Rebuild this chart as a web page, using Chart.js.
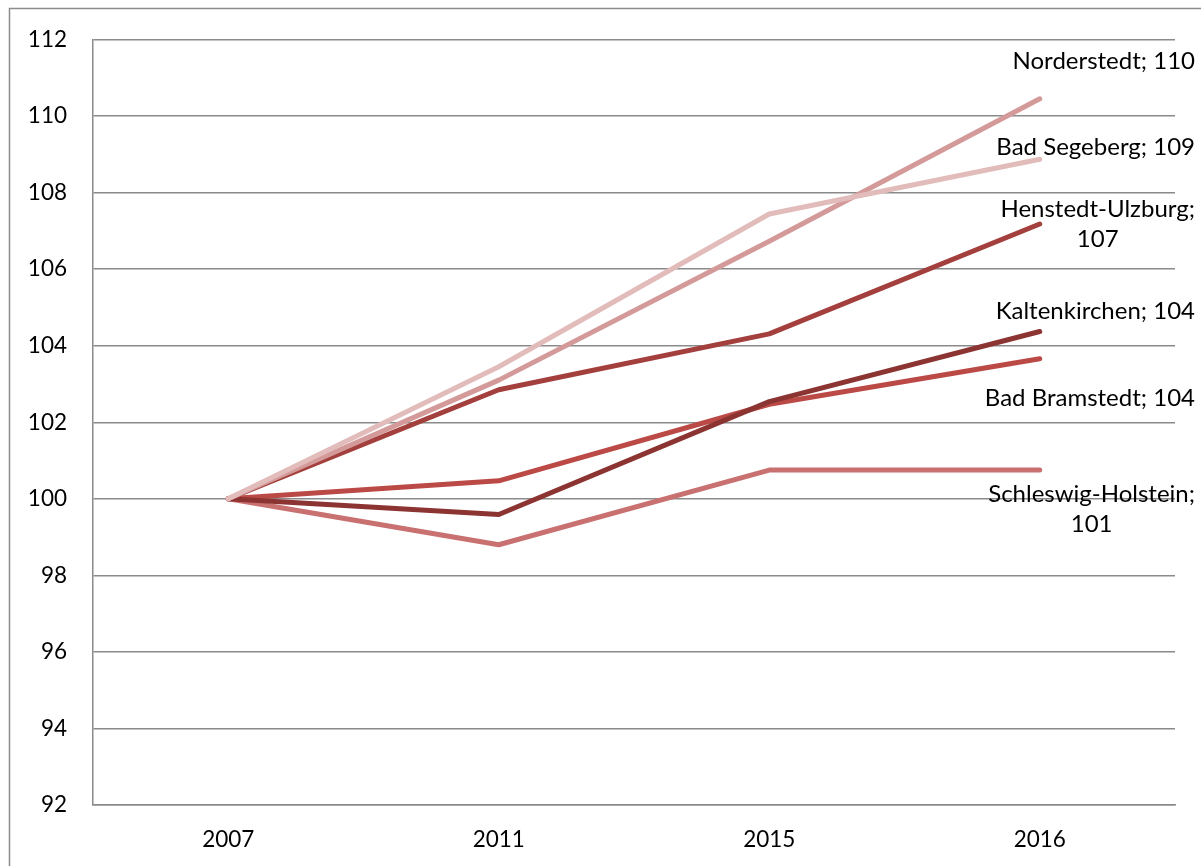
<!DOCTYPE html>
<html>
<head>
<meta charset="utf-8">
<title>Bevölkerungsentwicklung (2007 = 100)</title>
<script src="https://cdn.jsdelivr.net/npm/chart.js@4.4.1/dist/chart.umd.min.js"></script>
<style>
  html, body { margin: 0; padding: 0; background: #ffffff; }
  #wrap { position: relative; width: 1201px; height: 866px; }
</style>
</head>
<body>
<div id="wrap"><canvas id="chart" width="1201" height="866"></canvas></div>
<script>
// Index values, 2007 = 100
const years = ['2007', '2011', '2015', '2016'];
const seriesNames = ['Schleswig-Holstein', 'Bad Bramstedt', 'Kaltenkirchen', 'Henstedt-Ulzburg', 'Norderstedt', 'Bad Segeberg'];
const schleswigHolstein = [100, 98.8, 100.75, 100.75];
const badBramstedt      = [100, 100.47, 102.47, 103.66];
const kaltenkirchen     = [100, 99.59, 102.54, 104.37];
const henstedtUlzburg   = [100, 102.85, 104.31, 107.18];
const norderstedt       = [100, 103.1, 106.73, 110.45];
const badSegeberg       = [100, 103.45, 107.44, 108.87];
const yTicks = [92, 94, 96, 98, 100, 102, 104, 106, 108, 110, 112];

const seriesValues = [schleswigHolstein, badBramstedt, kaltenkirchen, henstedtUlzburg, norderstedt, badSegeberg];
const seriesColors = ['#c87170', '#bb4a46', '#8b3432', '#a33f3c', '#d39a99', '#e2bcba'];

// End-of-line label placement: vertical shift from the last point, and line breaks
const labelShift = [39, 40, -20, 0, -38, -12];
const labelBreak = [true, false, false, true, false, false];

const FONT = 'Lato, "Open Sans", sans-serif';
const GRID = '#8a8a8a';

const frame = {
  id: 'frame',
  beforeDraw(chart) {
    const ctx = chart.ctx;
    ctx.save();
    ctx.fillStyle = '#ffffff';
    ctx.fillRect(0, 0, chart.width, chart.height);
    ctx.strokeStyle = '#8c8c8c';
    ctx.lineWidth = 1.5;
    ctx.beginPath();
    ctx.moveTo(9.5, chart.height);
    ctx.lineTo(9.5, 8.5);
    ctx.lineTo(chart.width, 8.5);
    ctx.stroke();
    ctx.restore();
  }
};

const endLabels = {
  id: 'endLabels',
  afterDatasetsDraw(chart) {
    const ctx = chart.ctx;
    const rightEdge = chart.chartArea.right + 20;
    ctx.save();
    ctx.font = '24px ' + FONT;
    ctx.fillStyle = '#000000';
    ctx.textBaseline = 'middle';
    chart.data.datasets.forEach((ds, i) => {
      const meta = chart.getDatasetMeta(i);
      const pt = meta.data[meta.data.length - 1];
      const value = Math.round(ds.data[ds.data.length - 1]);
      const lines = labelBreak[i] ? [ds.label + ';', String(value)] : [ds.label + '; ' + value];
      const lineH = 30;
      const widths = lines.map(l => ctx.measureText(l).width);
      const blockW = Math.max(...widths);
      const cy = pt.y + labelShift[i];
      const top = cy - (lines.length - 1) * lineH / 2;
      ctx.textAlign = 'center';
      lines.forEach((l, k) => {
        ctx.fillText(l, rightEdge - blockW / 2, top + k * lineH);
      });
    });
    ctx.restore();
  }
};

const datasets = seriesNames.map((name, i) => ({
  label: name,
  data: seriesValues[i],
  borderColor: seriesColors[i],
  backgroundColor: seriesColors[i],
  borderWidth: 5,
  borderCapStyle: 'round',
  borderJoinStyle: 'round',
  pointRadius: 0,
  pointHoverRadius: 0,
  tension: 0,
  fill: false,
  order: seriesNames.length - i
}));

new Chart(document.getElementById('chart'), {
  type: 'line',
  data: { labels: years, datasets },
  options: {
    responsive: false,
    animation: false,
    devicePixelRatio: 1,
    layout: { padding: { left: 9, top: 36, right: 26, bottom: 0 } },
    plugins: {
      legend: { display: false },
      tooltip: { enabled: false },
      title: { display: false }
    },
    scales: {
      x: {
        type: 'category',
        offset: true,
        grid: { display: false, drawTicks: false },
        border: { display: true, color: GRID, width: 1.5 },
        ticks: { color: '#000000', font: { family: FONT, size: 22.5 }, padding: 21, maxRotation: 0 },
        afterFit(scale) { scale.height = 61; }
      },
      y: {
        min: 92,
        max: 112,
        afterBuildTicks(scale) { scale.ticks = yTicks.map(v => ({ value: v })); },
        grid: { color: GRID, lineWidth: 1.5, drawTicks: false },
        border: { display: true, color: GRID, width: 1.5 },
        ticks: { color: '#000000', font: { family: FONT, size: 22.5 }, padding: 26 },
        afterFit(scale) { scale.width = 84; }
      }
    }
  },
  plugins: [frame, endLabels]
});
</script>
</body>
</html>
